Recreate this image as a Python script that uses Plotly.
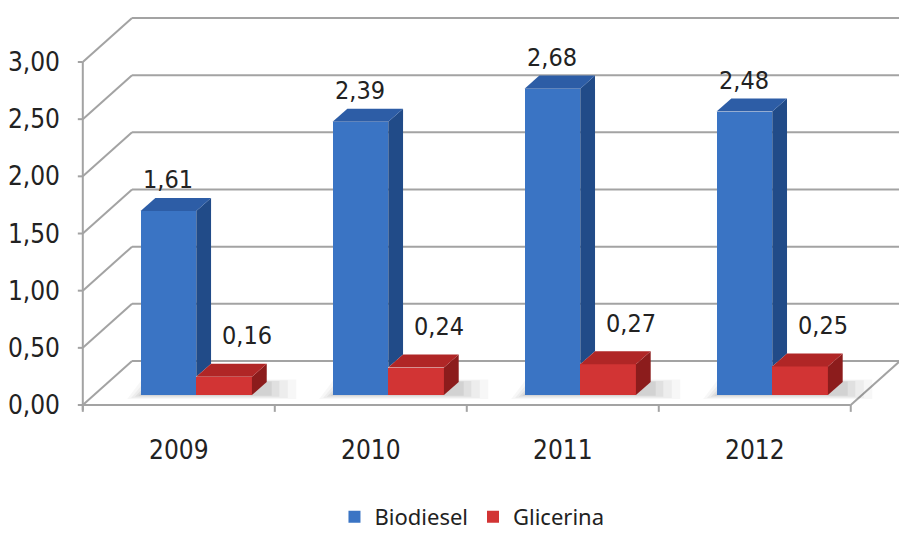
import plotly.graph_objects as go

# Production by year (values in the units shown on the axis)
years = ["2009", "2010", "2011", "2012"]
biodiesel = [1.61, 2.39, 2.68, 2.48]
glicerina = [0.16, 0.24, 0.27, 0.25]
y_ticks = [0.0, 0.5, 1.0, 1.5, 2.0, 2.5, 3.0]
y_tick_text = ["0,00", "0,50", "1,00", "1,50", "2,00", "2,50", "3,00"]

NARROW = "Liberation Sans Narrow, DejaVu Sans Condensed, Arial Narrow, sans-serif"
LEGEND_FONT = "Noto Sans, Liberation Sans, sans-serif"
TEXT = "#222222"
GRID = "#a3a3a3"

# Oblique projection used for the pseudo-3D frame
DEPTH_X, DEPTH_Y = 0.2564, 0.3849      # full depth of the chart box
BAR_DX, BAR_DY = 0.077, 0.114          # depth of each column
BAR_BASE = 0.087                       # floor level at the column front
BAR_W = 0.29
series = [
    dict(name="Biodiesel", values=biodiesel, offset=-0.054,
         front="#3a74c4", top="#2d5da6", side="#214b88"),
    dict(name="Glicerina", values=glicerina, offset=0.236,
         front="#d23434", top="#b02626", side="#8c1c1c"),
]

n = len(years)
x0 = -0.5
x1 = n - 0.5

fig = go.Figure()
shapes = []


def seg(xa, ya, xb, yb, width=2):
    shapes.append(dict(type="line", xref="x", yref="y", x0=xa, y0=ya, x1=xb, y1=yb,
                       layer="below", line=dict(color=GRID, width=width)))


# back wall gridlines, the diagonals joining them to the front axis, tick stubs
for v in y_ticks:
    seg(x0 + DEPTH_X, v + DEPTH_Y, 4.0, v + DEPTH_Y)
    seg(x0, v, x0 + DEPTH_X, v + DEPTH_Y)
    seg(x0 - 0.026, v, x0, v)

# front vertical axis, floor edges and category separators
seg(x0, -0.045, x0, y_ticks[-1])
seg(x0, 0, x1, 0)
seg(x1, 0, x1 + DEPTH_X, DEPTH_Y)
for k in range(n + 1):
    seg(x0 + k, 0, x0 + k, -0.06)

# soft floor shadow behind each column pair
left = series[0]["offset"] - BAR_W / 2
right = series[-1]["offset"] + BAR_W / 2 + BAR_DX
for i in range(n):
    for grow, alpha in ((0.07, 0.03), (0.05, 0.04), (0.03, 0.05), (0.012, 0.06)):
        shapes.append(dict(
            type="path", xref="x", yref="y", layer="below", line=dict(width=0),
            fillcolor=f"rgba(0,0,0,{alpha})",
            path=(f"M{i + left - grow},{BAR_BASE - grow * 0.5} "
                  f"L{i + right + grow * 2.2},{BAR_BASE - grow * 0.5} "
                  f"L{i + right + grow * 2.2},{BAR_BASE + BAR_DY + grow * 0.3} "
                  f"L{i + left + BAR_DX - grow},{BAR_BASE + BAR_DY + grow * 0.3} Z")))

# columns: front faces as bars, sides and tops as polygons
for j, s in enumerate(series):
    xs = [i + s["offset"] for i in range(n)]
    fig.add_trace(go.Bar(
        x=xs, y=s["values"], base=BAR_BASE, width=BAR_W, name=s["name"],
        marker=dict(color=s["front"], line=dict(width=0)), hoverinfo="skip",
    ))
    neighbour = series[j + 1]["values"] if j + 1 < len(series) else None
    for i, (xc, v) in enumerate(zip(xs, s["values"])):
        xl, xr = xc - BAR_W / 2, xc + BAR_W / 2
        top = BAR_BASE + v
        # the side face is hidden below the top of the column standing next to it
        floor = BAR_BASE + (neighbour[i] if neighbour else 0)
        fig.add_trace(go.Scatter(
            x=[xr, xr + BAR_DX, xr + BAR_DX, xr, xr],
            y=[floor, floor + BAR_DY, top + BAR_DY, top, floor],
            fill="toself", fillcolor=s["side"], mode="lines",
            line=dict(width=0, color=s["side"]), hoverinfo="skip", showlegend=False))
        fig.add_trace(go.Scatter(
            x=[xl, xl + BAR_DX, xr + BAR_DX, xr, xl],
            y=[top, top + BAR_DY, top + BAR_DY, top, top],
            fill="toself", fillcolor=s["top"], mode="lines",
            line=dict(width=0, color=s["top"]), hoverinfo="skip", showlegend=False))

# value labels
for s, xshift, yshift in ((series[0], 0, 31), (series[1], 23, 41)):
    for i, v in enumerate(s["values"]):
        fig.add_annotation(
            x=i + s["offset"], y=BAR_BASE + v, text=f"{v:.2f}".replace(".", ","),
            showarrow=False, xshift=xshift, yshift=yshift,
            font=dict(family=NARROW, size=25, color=TEXT))

fig.update_layout(
    width=899, height=534,
    margin=dict(l=70, r=0, t=0, b=120),
    paper_bgcolor="white", plot_bgcolor="white",
    barmode="overlay", bargap=0,
    shapes=shapes,
    font=dict(family=NARROW, color=TEXT),
    showlegend=True,
    legend=dict(orientation="h", xref="container", yref="container",
                x=0.525, xanchor="center", y=0.032, yanchor="middle",
                font=dict(family=LEGEND_FONT, size=22, color=TEXT),
                itemwidth=30, traceorder="normal"),
    xaxis=dict(range=[x0 - 13 / 195, x0 + 829 / 195], showgrid=False, zeroline=False,
               showline=False, tickmode="array", tickvals=list(range(n)), ticktext=years,
               ticks="", ticklabelstandoff=18, tickfont=dict(family=NARROW, size=26, color=TEXT)),
    yaxis=dict(range=[-9 / 114.33, 405 / 114.33], showgrid=False, zeroline=False,
               showline=False, tickmode="array", tickvals=y_ticks, ticktext=y_tick_text,
               ticks="", ticklabelstandoff=9, tickfont=dict(family=NARROW, size=26, color=TEXT)),
)

fig.write_html("out.html")
